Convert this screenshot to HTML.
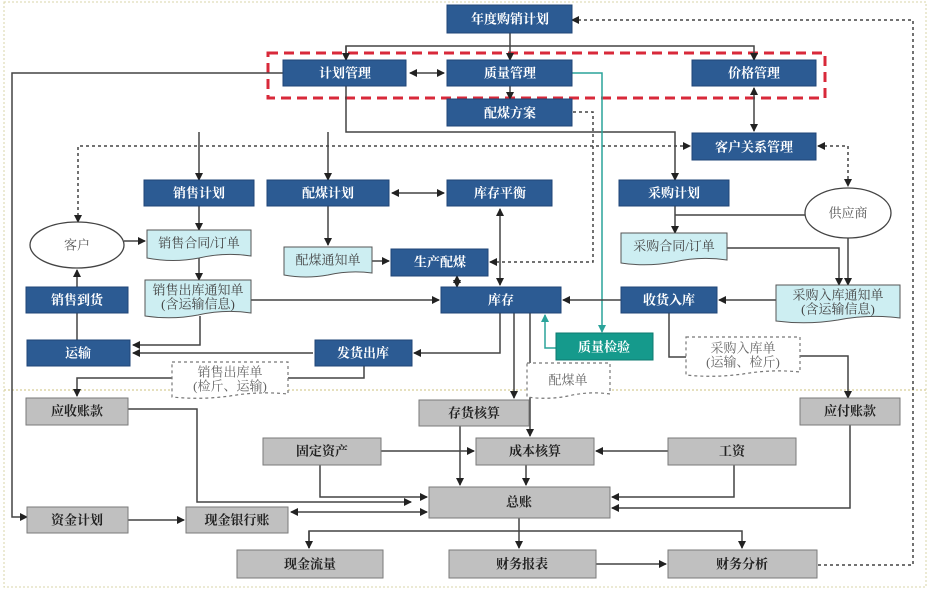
<!DOCTYPE html>
<html><head><meta charset="utf-8"><style>
html,body{margin:0;padding:0;background:#fff}
svg{display:block}
text{font-family:"Liberation Serif","Noto Serif CJK SC","Noto Sans CJK SC",serif;font-size:13px;text-anchor:middle;dominant-baseline:central}
.b{fill:#2c5b93;stroke:#1f4577;stroke-width:1}
.bt{fill:#fff;font-weight:bold}
.g{fill:#c0c0c0;stroke:#7a7a7a;stroke-width:1}
.gt{fill:#222;font-weight:bold}
.c{fill:#cdeef2;stroke:#555;stroke-width:1}
.ct{fill:#444}
.l{fill:none;stroke:#444;stroke-width:1.5}
.d{fill:none;stroke:#444;stroke-width:1.5;stroke-dasharray:3,3}
.dn{fill:#fff;stroke:#777;stroke-width:1.2;stroke-dasharray:3,3}
</style></head><body>
<svg width="930" height="590" viewBox="0 0 930 590" xmlns="http://www.w3.org/2000/svg">
<defs>
<marker id="a" markerWidth="8" markerHeight="8" refX="7" refY="4" orient="auto" markerUnits="userSpaceOnUse"><path d="M0,0 L8,4 L0,8z" fill="#222"/></marker>
<marker id="s" markerWidth="8" markerHeight="8" refX="1" refY="4" orient="auto" markerUnits="userSpaceOnUse"><path d="M8,0 L0,4 L8,8z" fill="#222"/></marker>
<marker id="t" markerWidth="8" markerHeight="8" refX="7" refY="4" orient="auto" markerUnits="userSpaceOnUse"><path d="M0,0 L8,4 L0,8z" fill="#2aa39a"/></marker>
</defs>
<!-- outer frame -->
<rect x="4" y="2" width="922" height="585" fill="none" stroke="#d8d4a8" stroke-width="1" stroke-dasharray="2,2"/>
<line x1="4" y1="390" x2="926" y2="390" stroke="#ddd6a8" stroke-width="1.5" stroke-dasharray="2,2"/>
<!-- red dashed -->
<rect x="268" y="53" width="557" height="45" fill="none" stroke="#d8293a" stroke-width="3" stroke-dasharray="10,6"/>

<!-- connectors -->
<path class="l" d="M510,33 V60" marker-end="url(#a)"/>
<path class="l" d="M346,60 V46 H754 V60" marker-end="url(#a)"/>
<path class="l" d="M346,46 V60" marker-end="url(#a)"/>
<path class="l" d="M410,73 H444" marker-start="url(#s)" marker-end="url(#a)"/>
<path class="l" d="M510,86 V99" marker-end="url(#a)"/>
<path class="l" d="M754,88 V131" marker-start="url(#s)" marker-end="url(#a)"/>
<path class="l" d="M346,86 V132 H675 V180" marker-end="url(#a)"/>
<path class="l" d="M199,132 V180" marker-end="url(#a)"/>
<path class="l" d="M328,132 V180" marker-end="url(#a)"/>
<path class="l" d="M283,73 H12 V517 H27" marker-end="url(#a)"/>
<path class="d" d="M78,222 V146 H690" marker-start="url(#s)" marker-end="url(#a)"/>
<path class="d" d="M818,146 H848 V186" marker-start="url(#s)" marker-end="url(#a)"/>
<path class="d" d="M573,112 H593 V262 H490" marker-end="url(#a)"/>
<path class="d" d="M572,20 H913 V565 H817" marker-start="url(#s)"/>
<path d="M572,73 H602 V332" fill="none" stroke="#2aa39a" stroke-width="1.5" marker-end="url(#t)"/>
<path d="M556,348 H545 V315" fill="none" stroke="#2aa39a" stroke-width="1.5" marker-end="url(#t)"/>
<path class="l" d="M392,193 H444" marker-start="url(#s)" marker-end="url(#a)"/>
<path class="l" d="M500,209 V285" marker-start="url(#s)" marker-end="url(#a)"/>
<path class="l" d="M199,206 V230" marker-end="url(#a)"/>
<path class="l" d="M328,206 V245" marker-end="url(#a)"/>
<path class="l" d="M372,261 H389" marker-end="url(#a)"/>
<path class="l" d="M457,276 V287" marker-start="url(#s)" marker-end="url(#a)"/>
<path class="l" d="M124,241 H145" marker-end="url(#a)"/>
<path class="l" d="M199,258 V280" marker-end="url(#a)"/>
<path class="l" d="M251,300 H439" marker-end="url(#a)"/>
<path class="l" d="M200,316 V345 H133" marker-end="url(#a)"/>
<path class="l" d="M77,340 V270" marker-end="url(#a)"/>
<path class="l" d="M313,353 H133" marker-end="url(#a)"/>
<path class="l" d="M500,313 V353 H414" marker-end="url(#a)"/>
<path class="l" d="M364,366 V378 H77 V396" marker-end="url(#a)"/>
<path class="l" d="M675,206 V233" marker-end="url(#a)"/>
<path class="l" d="M675,215 H806"/>
<path class="l" d="M727,248 H839 V285" marker-end="url(#a)"/>
<path class="l" d="M848,238 V285" marker-end="url(#a)"/>
<path class="l" d="M776,300 H719" marker-end="url(#a)"/>
<path class="l" d="M621,300 H563" marker-end="url(#a)"/>
<path class="l" d="M669,313 V357 H686"/>
<path class="l" d="M800,356 H848 V398" marker-end="url(#a)"/>
<path class="l" d="M514,313 V398" marker-end="url(#a)"/>
<path class="l" d="M530,313 V436" marker-end="url(#a)"/>
<path class="l" d="M460,426 V485" marker-end="url(#a)"/>
<path class="l" d="M381,451 H474" marker-end="url(#a)"/>
<path class="l" d="M668,451 H596" marker-end="url(#a)"/>
<path class="l" d="M526,465 V485" marker-end="url(#a)"/>
<path class="l" d="M320,465 V497 H427" marker-end="url(#a)"/>
<path class="l" d="M734,465 V497 H612" marker-end="url(#a)"/>
<path class="l" d="M128,409 H197 V502 H411" marker-end="url(#a)"/>
<path class="l" d="M850,425 V508 H612" marker-end="url(#a)"/>
<path class="l" d="M128,520 H184" marker-end="url(#a)"/>
<path class="l" d="M291,512 H427" marker-start="url(#s)" marker-end="url(#a)"/>
<path class="l" d="M519,518 V548" marker-end="url(#a)"/>
<path class="l" d="M309,548 V531 H742 V548" marker-end="url(#a)"/>
<path class="l" d="M309,531 V548" marker-end="url(#a)"/>
<path class="l" d="M596,564 H666" marker-end="url(#a)"/>

<!-- blue boxes -->
<g>
<rect class="b" x="447" y="5" width="125" height="28"/><text class="bt" x="510" y="19">年度购销计划</text>
<rect class="b" x="283" y="60" width="123" height="26"/><text class="bt" x="345" y="73">计划管理</text>
<rect class="b" x="447" y="60" width="125" height="26"/><text class="bt" x="510" y="73">质量管理</text>
<rect class="b" x="692" y="60" width="124" height="26"/><text class="bt" x="754" y="73">价格管理</text>
<rect class="b" x="447" y="99" width="125" height="27"/><text class="bt" x="510" y="113">配煤方案</text>
<rect class="b" x="692" y="133" width="124" height="27"/><text class="bt" x="754" y="147">客户关系管理</text>
<rect class="b" x="144" y="180" width="110" height="26"/><text class="bt" x="199" y="193">销售计划</text>
<rect class="b" x="267" y="180" width="122" height="26"/><text class="bt" x="328" y="193">配煤计划</text>
<rect class="b" x="447" y="180" width="105" height="26"/><text class="bt" x="500" y="193">库存平衡</text>
<rect class="b" x="619" y="180" width="110" height="26"/><text class="bt" x="674" y="193">采购计划</text>
<rect class="b" x="391" y="249" width="97" height="27"/><text class="bt" x="440" y="262">生产配煤</text>
<rect class="b" x="26" y="287" width="102" height="26"/><text class="bt" x="77" y="300">销售到货</text>
<rect class="b" x="441" y="287" width="120" height="26"/><text class="bt" x="501" y="300">库存</text>
<rect class="b" x="621" y="287" width="96" height="26"/><text class="bt" x="669" y="300">收货入库</text>
<rect class="b" x="27" y="340" width="103" height="26"/><text class="bt" x="78" y="353">运输</text>
<rect class="b" x="315" y="340" width="97" height="26"/><text class="bt" x="363" y="353">发货出库</text>
<rect x="556" y="333" width="97" height="27" fill="#159a8c" stroke="#0d7a6f"/><text class="bt" x="604" y="347">质量检验</text>
</g>
<!-- ellipses -->
<ellipse cx="77" cy="245" rx="47" ry="23" fill="#fff" stroke="#444" stroke-width="1.3"/><text x="77" y="245" fill="#555" font-size="15">客户</text>
<ellipse cx="848" cy="213" rx="43" ry="25" fill="#fff" stroke="#444" stroke-width="1.3"/><text x="848" y="213" fill="#555" font-size="15">供应商</text>
<!-- documents -->
<path class="c" d="M147,230 H251 V256 Q225,252 199,258 Q173,263 147,258Z"/><text class="ct" x="199" y="243">销售合同/订单</text>
<path class="c" d="M284,247 H372 V273 Q350,270 328,275 Q306,279 284,275Z"/><text class="ct" x="328" y="260">配煤通知单</text>
<path class="c" d="M621,233 H727 V260 Q700,256 674,262 Q647,267 621,263Z"/><text class="ct" x="674" y="246">采购合同/订单</text>
<path class="c" d="M145,280 H251 V313 Q225,309 198,315 Q172,320 145,316Z"/><text class="ct" x="198" y="290" font-size="12">销售出库通知单</text><text class="ct" x="198" y="304" font-size="12">(含运输信息)</text>
<path class="c" d="M776,285 H900 V318 Q869,314 838,320 Q807,325 776,321Z"/><text class="ct" x="838" y="295" font-size="12">采购入库通知单</text><text class="ct" x="838" y="309" font-size="12">(含运输信息)</text>
<!-- dashed docs -->
<path class="dn" d="M686,337 H800 V372 Q772,369 743,374 Q714,378 686,375Z"/><text x="743" y="348" fill="#666" font-size="12">采购入库单</text><text x="743" y="362" fill="#666" font-size="12">(运输、检斤)</text>
<path class="dn" d="M172,362 H288 V394 Q259,391 230,396 Q201,400 172,397Z"/><text x="230" y="372" fill="#666" font-size="12">销售出库单</text><text x="230" y="386" fill="#666" font-size="12">(检斤、运输)</text>
<path class="dn" d="M527,363 H610 V394 Q589,391 568,396 Q548,400 527,397Z"/><text x="568" y="380" fill="#666" font-size="12">配煤单</text>
<!-- gray boxes -->
<rect class="g" x="26" y="398" width="102" height="27"/><text class="gt" x="77" y="411">应收账款</text>
<rect class="g" x="419" y="400" width="110" height="26"/><text class="gt" x="474" y="413">存货核算</text>
<rect class="g" x="800" y="398" width="100" height="27"/><text class="gt" x="850" y="411">应付账款</text>
<rect class="g" x="263" y="438" width="118" height="27"/><text class="gt" x="322" y="451">固定资产</text>
<rect class="g" x="476" y="438" width="118" height="27"/><text class="gt" x="535" y="451">成本核算</text>
<rect class="g" x="668" y="438" width="128" height="27"/><text class="gt" x="732" y="451">工资</text>
<rect class="g" x="429" y="487" width="181" height="31"/><text class="gt" x="519" y="502">总账</text>
<rect class="g" x="27" y="507" width="101" height="26"/><text class="gt" x="77" y="520">资金计划</text>
<rect class="g" x="186" y="507" width="102" height="26"/><text class="gt" x="237" y="520">现金银行账</text>
<rect class="g" x="237" y="550" width="146" height="28"/><text class="gt" x="310" y="564">现金流量</text>
<rect class="g" x="449" y="550" width="147" height="28"/><text class="gt" x="522" y="564">财务报表</text>
<rect class="g" x="668" y="550" width="149" height="28"/><text class="gt" x="742" y="564">财务分析</text>
</svg>
</body></html>
